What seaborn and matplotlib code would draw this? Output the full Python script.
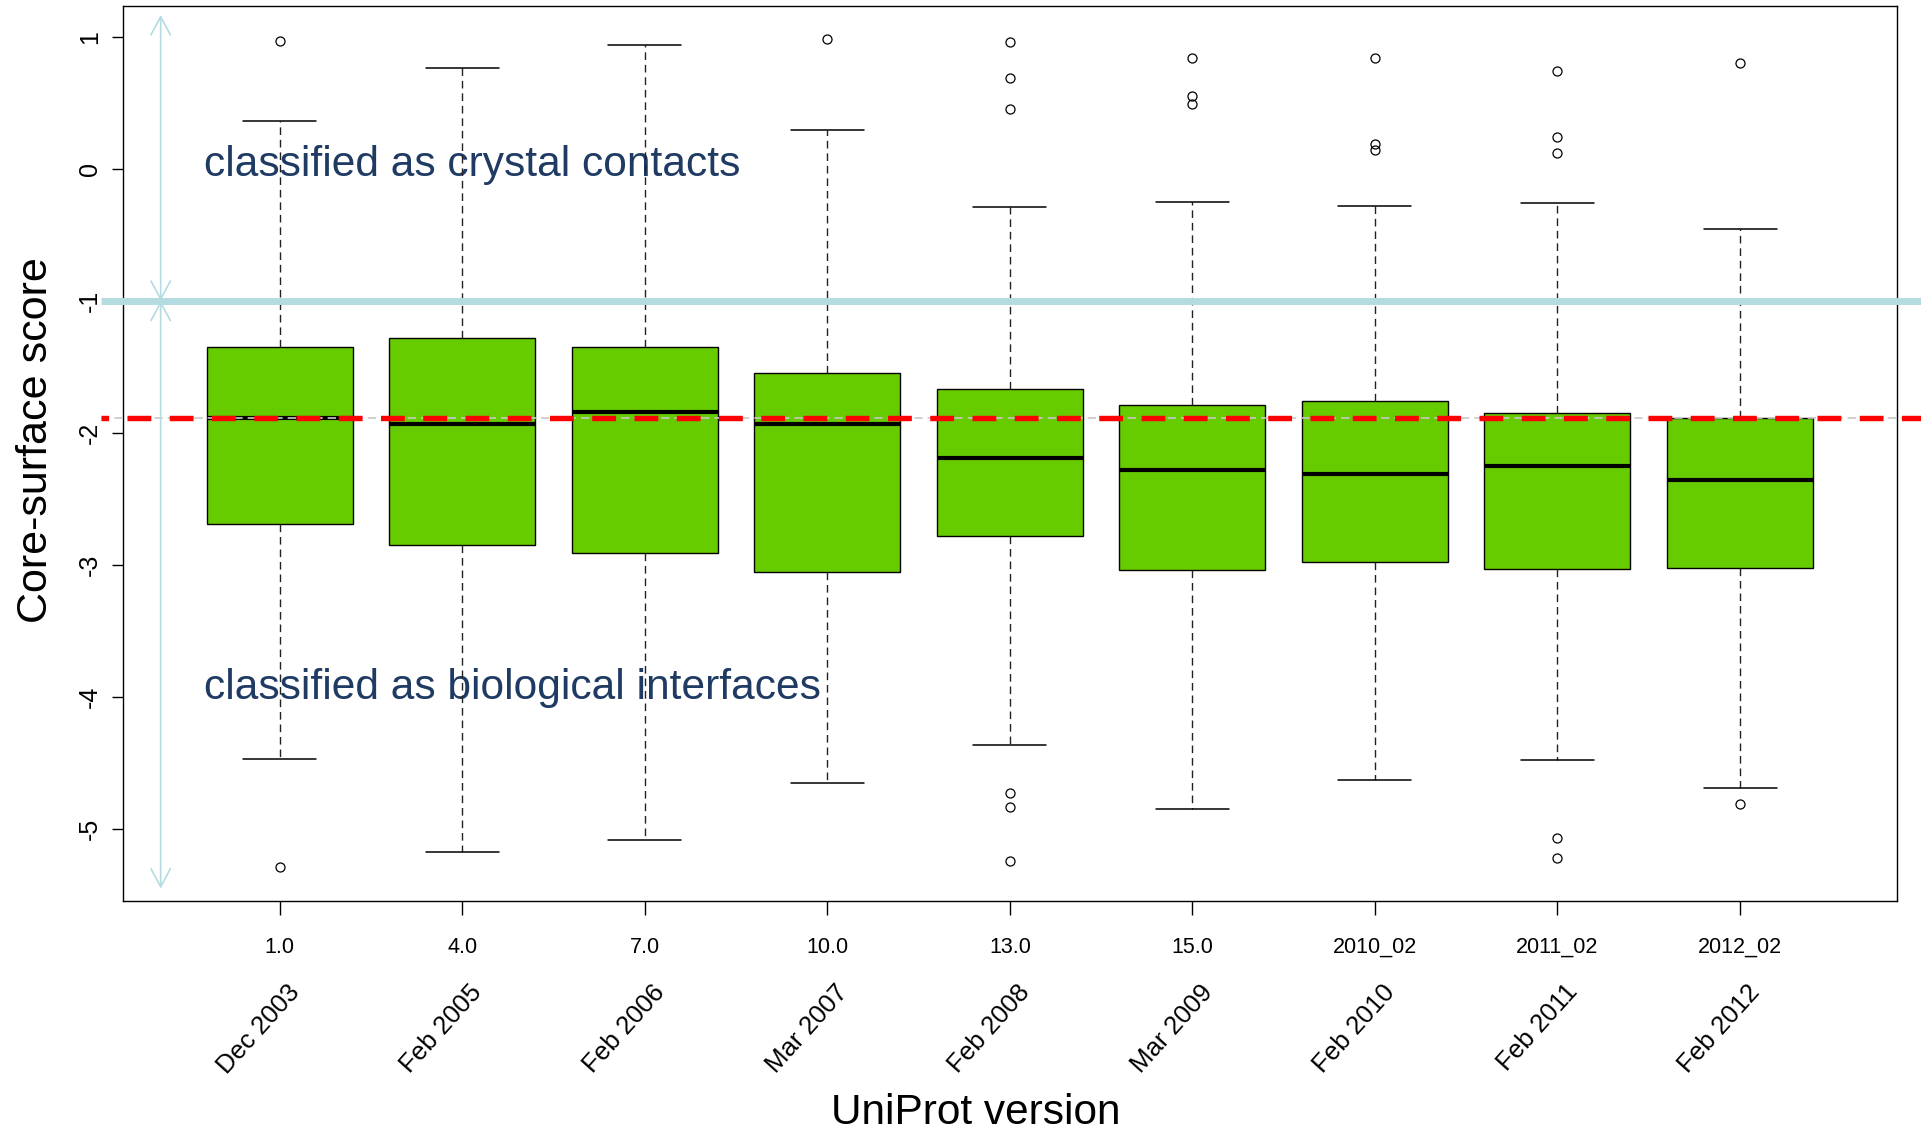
import matplotlib
matplotlib.use("Agg")
import matplotlib.pyplot as plt
import seaborn as sns
from matplotlib import transforms

# ---------------- data ----------------
versions = ["1.0", "4.0", "7.0", "10.0", "13.0", "15.0", "2010_02", "2011_02", "2012_02"]
dates = ["Dec 2003", "Feb 2005", "Feb 2006", "Mar 2007", "Feb 2008",
         "Mar 2009", "Feb 2010", "Feb 2011", "Feb 2012"]
whisker_low = [-4.47, -5.17, -5.08, -4.65, -4.36, -4.85, -4.63, -4.48, -4.69]
q1_values = [-2.69, -2.85, -2.91, -3.05, -2.78, -3.04, -2.98, -3.03, -3.02]
median_values = [-1.885, -1.93, -1.84, -1.93, -2.19, -2.28, -2.31, -2.25, -2.36]
q3_values = [-1.35, -1.28, -1.35, -1.55, -1.67, -1.79, -1.76, -1.85, -1.885]
whisker_high = [0.36, 0.76, 0.94, 0.29, -0.29, -0.25, -0.28, -0.26, -0.46]
outliers = [
    [0.97, -5.29],
    [],
    [],
    [0.98],
    [0.96, 0.69, 0.45, -4.73, -4.83, -5.24],
    [0.84, 0.55, 0.49],
    [0.84, 0.19, 0.14],
    [0.74, 0.24, 0.12, -5.07, -5.22],
    [0.80, -4.81],
]
threshold = -1.0          # crystal / biological cut-off
reference_median = -1.885  # red dashed reference line
y_ticks = [-5, -4, -3, -2, -1, 0, 1]
y_tick_labels = ["-5", "-4", "-3", "-2", "-1", "0", "1"]
text_top = "classified as crystal contacts"
text_bottom = "classified as biological interfaces"

# ---------------- style ----------------
sns.set_theme(style="white")
plt.rcParams["font.family"] = ["Liberation Sans", "DejaVu Sans"]
plt.rcParams["axes.unicode_minus"] = False

W, H = 1921, 1136
fig = plt.figure(figsize=(W / 100, H / 100), dpi=100)
ax_l, ax_r, ax_t, ax_b = 122.7, 1897.0, 6.0, 900.7
ax = fig.add_axes([ax_l / W, 1 - ax_b / H, (ax_r - ax_l) / W, (ax_b - ax_t) / H])

stats = []
for i in range(len(versions)):
    stats.append(dict(med=median_values[i], q1=q1_values[i], q3=q3_values[i],
                      whislo=whisker_low[i], whishi=whisker_high[i],
                      fliers=outliers[i], label=versions[i]))

positions = list(range(1, len(versions) + 1))
ax.bxp(stats, positions=positions, widths=0.8, capwidths=0.4,
       patch_artist=True, showfliers=True,
       boxprops=dict(facecolor="#66CC00", edgecolor="black", linewidth=1.0),
       medianprops=dict(color="black", linewidth=3.0, solid_capstyle="butt"),
       whiskerprops=dict(color="#222222", linewidth=1.0, linestyle=(0, (5.5, 3.5))),
       capprops=dict(color="black", linewidth=1.1),
       flierprops=dict(marker="o", markerfacecolor="none", markeredgecolor="black",
                       markersize=6.5, markeredgewidth=0.9))

ax.set_xlim(0.14, 9.86)
ax.set_ylim(-5.542, 1.232)

# reference lines, extending outside the plot region
trans = transforms.blended_transform_factory(ax.transAxes, ax.transData)
x0 = (101 - ax_l) / (ax_r - ax_l)
x1 = (W - ax_l) / (ax_r - ax_l)
ax.plot([x0, x1], [threshold, threshold], transform=trans, color="#B4DCE0",
        lw=5.0, clip_on=False, zorder=5, solid_capstyle="butt")
ax.plot([x0, x1], [reference_median, reference_median], transform=trans,
        color="#C8C8C8", lw=1.2, ls=(0, (5, 3)), clip_on=False, zorder=4)
ax.plot([x0, x1], [reference_median, reference_median], transform=trans,
        color="#FF0000", lw=3.9, ls=(3.0, (4.4, 3.4)), clip_on=False, zorder=4.5,
        dash_capstyle="butt")

# double arrows
arrow_x = 0.348
aprops = dict(arrowstyle="<->,head_length=13,head_width=7", mutation_scale=1,
              color="#B4DCE0", lw=1.2, shrinkA=0, shrinkB=0)
ax.annotate("", xy=(arrow_x, 1.164), xytext=(arrow_x, threshold),
            arrowprops=aprops, zorder=5)
ax.annotate("", xy=(arrow_x, -5.45), xytext=(arrow_x, threshold),
            arrowprops=aprops, zorder=5)

# region labels
ax.text(0.583, -0.058, text_top, fontsize=30.6, color="#1F3B63",
        ha="left", va="baseline", zorder=1.5)
ax.text(0.583, -4.014, text_bottom, fontsize=30.6, color="#1F3B63",
        ha="left", va="baseline", zorder=1.5)

# axes styling
for s in ax.spines.values():
    s.set_color("black")
    s.set_linewidth(1.0)

ax.set_xticks(positions)
ax.set_xticklabels(versions, fontsize=15.5)
ax.tick_params(axis="x", bottom=True, length=10, width=1, pad=16,
               direction="out", colors="black")
ax.set_yticks(y_ticks)
ax.set_yticklabels(y_tick_labels, fontsize=18)
ax.tick_params(axis="y", left=True, length=8, width=1, pad=7,
               direction="out", colors="black")
for lab in ax.get_yticklabels():
    lab.set_rotation(90)
    lab.set_va("center")

# rotated date labels
offset = transforms.ScaledTranslation(16 / 100, 0, fig.dpi_scale_trans)
dtr = transforms.blended_transform_factory(ax.transData, fig.transFigure) + offset
for pos, d in zip(positions, dates):
    ax.text(pos, 1 - 988 / H, d, transform=dtr, rotation=48, rotation_mode="anchor",
            ha="right", va="center", fontsize=18.5, color="black", clip_on=False)

fig.text(976 / W, 1 - 1113 / H, "UniProt version", ha="center", va="center",
         fontsize=30.5, color="black")
fig.text(36 / W, 1 - 440 / H, "Core-surface score", ha="center", va="center",
         rotation=90, fontsize=31, color="black")

fig.savefig("out.png", dpi=100)
